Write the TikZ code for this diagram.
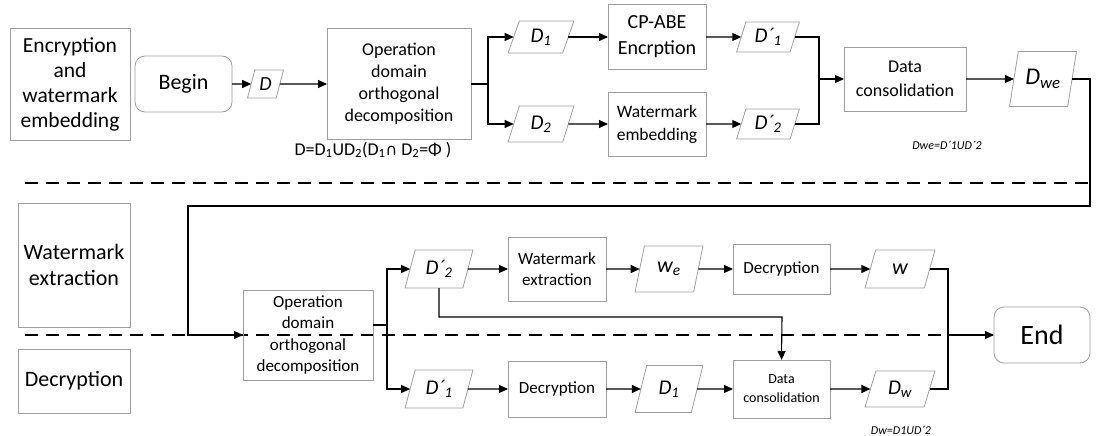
\documentclass[tikz,border=0pt]{standalone}
\usepackage{fontspec}
\setmainfont{Carlito}
\newfontfamily\dejavu{DejaVu Sans}
\usetikzlibrary{shapes.geometric,arrows.meta}
\tikzset{
  every node/.style={inner sep=0pt, outer sep=0pt},
  lbl/.style={draw=gray!75, line width=0.8pt, align=center, font=\fontsize{21.5}{25}\selectfont},
  box/.style={draw=gray!75, line width=0.8pt, align=center},
  rbox/.style={draw=gray!75, line width=0.8pt, rounded corners=10pt, align=center},
  para/.style={draw=gray!75, line width=0.8pt, trapezium, trapezium left angle=72,
     trapezium right angle=108, trapezium stretches=true, font=\itshape\fontsize{21}{21}\selectfont},
  arr/.style={-{Triangle[length=9pt,width=8pt]}, line width=1.1pt},
  conn/.style={line width=1.1pt},
  sepline/.style={line width=1.3pt, dash pattern=on 13pt off 8pt},
  note/.style={font=\itshape\fontsize{12}{12}\selectfont}
}
\begin{document}
\begin{tikzpicture}[x=1pt,y=-1pt]
\useasboundingbox (0,0) rectangle (1096,436);
% separators
\coordinate (s1a) at (25,183); \coordinate (s1b) at (1090,183);
\coordinate (s2a) at (25,335); \coordinate (s2b) at (993,335);
\draw[sepline] (s1a) -- (s1b);
\draw[sepline] (s2a) -- (s2b);
% left labels
\node[lbl, minimum width=120, minimum height=112] (lab1) at (70,84) {Encryption\\and\\watermark\\embedding};
\node[lbl, minimum width=112, minimum height=124, font=\fontsize{22}{26}\selectfont] (lab2) at (74,265) {Watermark\\extraction};
\node[lbl, minimum width=112, minimum height=64, font=\fontsize{22}{26}\selectfont] (lab3) at (74,381) {Decryption};
% top row
\node[rbox, minimum width=97, minimum height=56, font=\fontsize{22}{22}\selectfont] (begin) at (183.5,84) {Begin};
\node[para, minimum width=36, minimum height=28, font=\itshape\fontsize{20}{20}\selectfont] (d) at (265.5,84) {D};
\node[box, minimum width=144, minimum height=111, font=\fontsize{18}{22}\selectfont] (op1) at (399,84) {Operation\\domain\\orthogonal\\decomposition};
\node[font=\fontsize{18}{18}\selectfont] (f1) at (373,150) {D=D\textsubscript{1}UD\textsubscript{2}(D\textsubscript{1}{\dejavu\fontsize{16}{16}\selectfont ∩} D\textsubscript{2}=Φ )};
\node[para, minimum width=66, minimum height=32] (d1) at (541,37) {D\textsubscript{1}};
\node[para, minimum width=66, minimum height=36] (d2) at (541,124) {D\textsubscript{2}};
\node[box, minimum width=98, minimum height=65, font=\fontsize{20}{26}\selectfont] (cp) at (657,37) {CP-ABE\\Encrption};
\node[box, minimum width=98, minimum height=64, font=\fontsize{17.5}{23}\selectfont] (wm) at (657,124) {Watermark\\embedding};
\node[para, minimum width=63, minimum height=30] (dp1) at (768,37) {D´\textsubscript{1}};
\node[para, minimum width=63, minimum height=30] (dp2) at (768,124) {D´\textsubscript{2}};
\node[box, minimum width=122, minimum height=64, font=\fontsize{18}{24}\selectfont] (dc) at (905,79) {Data\\consolidation};
\node[para, minimum width=67, minimum height=55, font=\itshape\fontsize{24}{24}\selectfont] (dwe) at (1043,79) {D\textsubscript{we}};
\node[note] (f2) at (947,145) {Dwe=D´1UD´2};
% bottom rows
\node[box, minimum width=130, minimum height=90, font=\fontsize{17}{21.5}\selectfont] (op2) at (308,335) {Operation\\domain\\orthogonal\\decomposition};
\node[para, minimum width=68, minimum height=38] (dp2b) at (439,269) {D´\textsubscript{2}};
\node[box, minimum width=98, minimum height=64, font=\fontsize{17}{21.5}\selectfont] (wex) at (557,269) {Watermark\\extraction};
\node[para, minimum width=68, minimum height=46, font=\itshape\fontsize{22}{22}\selectfont] (we) at (669,269) {w\textsubscript{e}};
\node[box, minimum width=97, minimum height=50, font=\fontsize{17}{21}\selectfont] (dec1) at (781.5,269) {Decryption};
\node[para, minimum width=70, minimum height=38, font=\itshape\fontsize{22}{22}\selectfont] (w) at (900,269) {w};
\node[rbox, minimum width=96, minimum height=56, font=\fontsize{28}{28}\selectfont] (end) at (1042,335) {End};
\node[para, minimum width=68, minimum height=38] (dp1b) at (439,389) {D´\textsubscript{1}};
\node[box, minimum width=98, minimum height=56, font=\fontsize{17}{21}\selectfont] (dec2) at (557,389) {Decryption};
\node[para, minimum width=68, minimum height=47] (d1b) at (669,389) {D\textsubscript{1}};
\node[box, minimum width=97, minimum height=58, font=\fontsize{14}{19}\selectfont] (dc2) at (781.5,389) {Data\\consolidation};
\node[para, minimum width=70, minimum height=36] (dw) at (900,389) {D\textsubscript{w}};
\node[note] (f3) at (901,430) {Dw=D1UD´2};
% connectors top
\coordinate (b1) at (488,84);
\coordinate (m1) at (819,79);
\draw[arr] (begin.east) -- (d.west);
\draw[arr] (d.east) -- (op1.west);
\draw[conn] (op1.east) -- (b1);
\draw[arr] (b1) |- (d1.west);
\draw[arr] (b1) |- (d2.west);
\draw[arr] (d1.east) -- (cp.west);
\draw[arr] (d2.east) -- (wm.west);
\draw[arr] (cp.east) -- (dp1.west);
\draw[arr] (wm.east) -- (dp2.west);
\draw[conn] (dp1.east) -| (m1);
\draw[conn] (dp2.east) -| (m1);
\draw[arr] (m1) -- (dc.west);
\draw[arr] (dc.east) -- (dwe.west);
\coordinate (r1) at (1090,206);
\coordinate (r2) at (188,206);
\draw[arr] (dwe.east) -| (r1) -- (r2) |- (op2.west);
% connectors bottom
\coordinate (b2) at (387,325);
\coordinate (m2) at (948,335);
\coordinate (k1) at (782,317);
\draw[conn] (op2.east |- b2) -- (b2);
\draw[arr] (b2) |- (dp2b.west);
\draw[arr] (b2) |- (dp1b.west);
\draw[arr] (dp2b.east) -- (wex.west);
\draw[arr] (wex.east) -- (we.west);
\draw[arr] (we.east) -- (dec1.west);
\draw[arr] (dec1.east) -- (w.west);
\draw[arr] (dp1b.east) -- (dec2.west);
\draw[arr] (dec2.east) -- (d1b.west);
\draw[arr] (d1b.east) -- (dc2.west);
\draw[arr] (dc2.east) -- (dw.west);
\draw[arr] (dp2b.south) |- (k1) -- (dc2.north);
\draw[conn] (w.east) -| (m2);
\draw[conn] (dw.east) -| (m2);
\draw[arr] (m2) -- (end.west);
\end{tikzpicture}
\end{document}
